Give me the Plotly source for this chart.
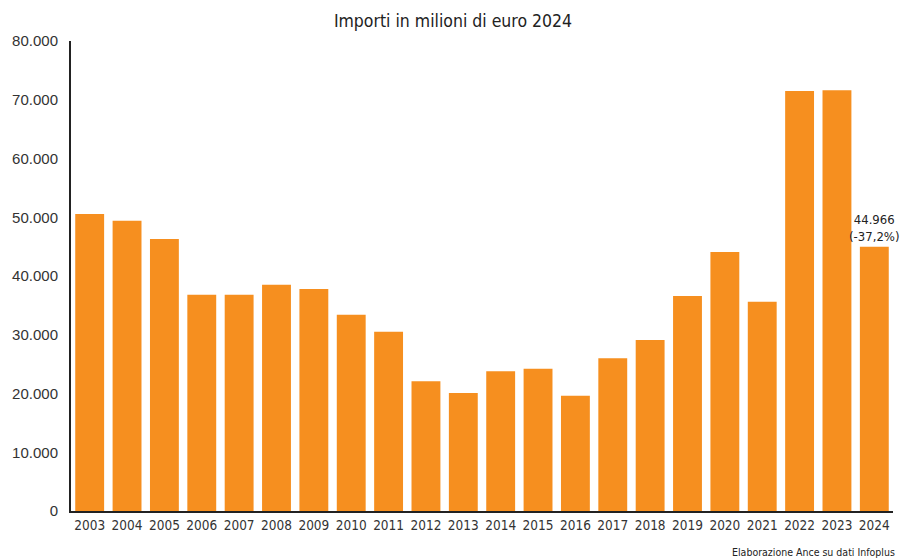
import plotly.graph_objects as go

years = list(range(2003, 2025))
importi = [50550, 49400, 46300, 36800, 36800, 38500, 37800, 33400, 30500, 22100,
           20100, 23800, 24200, 19600, 26000, 29100, 36600, 44100, 35600, 71500,
           71600, 44966]
label_2024 = "44.966<br>(-37,2%)"
title_text = "Importi in milioni di euro 2024"
source_text = "Elaborazione Ance su dati Infoplus"
y_ticks = [0, 10000, 20000, 30000, 40000, 50000, 60000, 70000, 80000]

narrow = "DejaVu Sans Condensed, Liberation Sans Narrow, Liberation Sans, sans-serif"
regular = "Liberation Sans, Arial, sans-serif"

fig = go.Figure(go.Bar(x=years, y=importi, marker=dict(color="#F68F1F", line=dict(width=0)),
                       hoverinfo="x+y"))

fig.update_layout(
    width=906, height=560,
    margin=dict(l=67, r=13, t=41, b=49),
    paper_bgcolor="white", plot_bgcolor="white",
    separators=",.",
    bargap=0.227,
    showlegend=False,
    title=dict(text=title_text, x=0.5, xanchor="center", y=0.962, yanchor="middle",
               font=dict(family=narrow, size=17.5, color="#222")),
    xaxis=dict(type="linear", range=[years[0] - 0.5, years[-1] + 0.5],
               tickvals=years, ticktext=[str(y) for y in years],
               showline=True, linecolor="#222", linewidth=1.5,
               ticks="", tickfont=dict(family=narrow, size=13.5, color="#333"),
               showgrid=False, zeroline=False, ticklabelstandoff=1),
    yaxis=dict(range=[0, 80000], tickvals=y_ticks, tickformat=",d", showline=True,
               linecolor="#222", linewidth=2, ticks="", showgrid=False, zeroline=False,
               tickfont=dict(family=regular, size=15, color="#333"), ticklabelstandoff=8),
    annotations=[
        dict(x=years[-1], y=importi[-1], text=label_2024, showarrow=False, xanchor="center",
             yanchor="bottom", yshift=1, font=dict(family=narrow, size=13, color="#222")),
        dict(x=1, xref="paper", xanchor="right", y=-0.087, yref="paper", yanchor="middle",
             xshift=4, yshift=0, text=source_text, showarrow=False,
             font=dict(family=narrow, size=10.5, color="#222")),
    ],
)

fig.write_html("out.html")
